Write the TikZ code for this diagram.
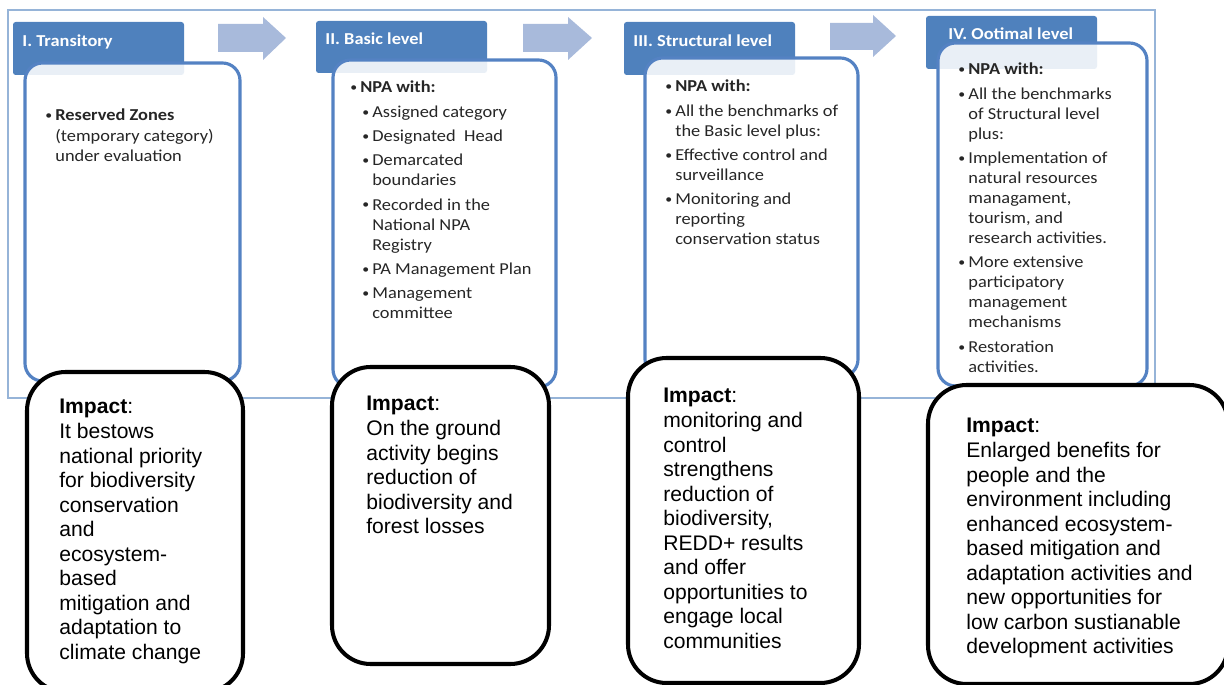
\documentclass[tikz,border=0pt]{standalone}
\usepackage{fontspec}
\usepackage{graphicx}
\setmainfont{Liberation Sans}
\newfontfamily\calib[FakeStretch=1.1]{Carlito}
\usepackage{tikz}
\definecolor{tabblue}{RGB}{79,129,189}
\definecolor{boxblue}{RGB}{84,130,195}
\definecolor{arrblue}{RGB}{168,186,219}
\definecolor{framblue}{RGB}{150,180,216}
\definecolor{txtgray}{RGB}{38,38,38}
\newcommand{\bl}{\makebox[5.7pt][l]{\raisebox{0.15ex}{\scalebox{0.75}{\textbullet}}}}
\newcommand{\itm}[2][0pt]{\par\hangindent=\dimexpr#1+5.7pt\relax\hangafter=1%
  \noindent\hspace*{#1}\bl#2\par\vspace{2.4pt}}
\tikzset{
  tabbox/.style={fill=tabblue, rounded corners=1.5pt},
  lvlbox/.style={draw=boxblue, line width=1.8pt, fill=white, fill opacity=0.88, rounded corners=10pt},
  impbox/.style={draw=black, line width=2.3pt, fill=white, rounded corners=22pt},
  tabtext/.style={anchor=base west, inner sep=0, text=white, font=\calib\bfseries\fontsize{9.5}{11.4}\selectfont},
  lvltext/.style={anchor=base west, inner sep=0, text=txtgray, font=\calib\fontsize{9.5}{11.4}\selectfont},
  imptext/.style={anchor=base west, inner sep=0, text=black, font=\fontsize{12}{13.95}\selectfont}
}

\begin{document}
\begin{tikzpicture}[x=0.02cm, y=-0.02cm]
\clip (0,0) rectangle (1224,685);
% frame round the four levels
\draw[framblue, line width=1.2pt] (8,10) rectangle (1155,398);
% arrows between the tabs
\fill[arrblue] (218,24) -- (263,24) -- (263,17) -- (286,38) -- (263,60) -- (263,52) -- (218,52) -- cycle;
\fill[arrblue] (523,24) -- (568,24) -- (568,17) -- (592,38) -- (568,60) -- (568,52) -- (523,52) -- cycle;
\fill[arrblue] (830,23) -- (873,23) -- (873,15) -- (896,36) -- (873,57) -- (873,50) -- (830,50) -- cycle;
% tabs
\fill[tabbox] (13,22) rectangle (184,75);
\fill[tabbox] (316,21) rectangle (487,73);
\fill[tabbox] (624,22) rectangle (795,75);
\fill[tabbox] (926,16) rectangle (1097,69);
% level boxes
\draw[lvlbox] (25,63) rectangle (240,381);
\draw[lvlbox] (333,60) rectangle (556,387);
\draw[lvlbox] (645,58) rectangle (858,377);
\draw[lvlbox] (938,43) rectangle (1147,386);
% tab labels
\node[tabtext] (tabI) at (22,47) {I. Transitory};
\node[tabtext] (tabII) at (325,45) {II. Basic level};
\node[tabtext] (tabIII) at (633,47) {III. Structural level};
\node[tabtext] (tabIV) at (948,40) {IV. Ootimal level};
% level contents
\node[lvltext] (lvlI) at (45,121) {\begin{minipage}[t]{110pt}
\itm{\textbf{Reserved Zones}\\(temporary category)\\under evaluation}
\end{minipage}};
\node[lvltext] (lvlII) at (350,93) {\begin{minipage}[t]{115pt}
\itm{\textbf{NPA with:}}
\itm[6.8pt]{Assigned category}
\itm[6.8pt]{Designated\ \ Head}
\itm[6.8pt]{Demarcated\\boundaries}
\itm[6.8pt]{Recorded in the\\National NPA\\Registry}
\itm[6.8pt]{PA Management Plan}
\itm[6.8pt]{Management\\committee}
\end{minipage}};
\node[lvltext] (lvlIII) at (665,92) {\begin{minipage}[t]{110pt}
\itm{\textbf{NPA with:}}
\itm{All the benchmarks of\\the Basic level plus:}
\itm{Effective control and\\surveillance}
\itm{Monitoring and\\reporting\\conservation status}
\end{minipage}};
\node[lvltext] (lvlIV) at (958,75) {\begin{minipage}[t]{105pt}
\itm{\textbf{NPA with:}}
\itm{All the benchmarks\\of Structural level\\plus:}
\itm{Implementation of\\natural resources\\managament,\\tourism, and\\research activities.}
\itm{More extensive\\participatory\\management\\mechanisms}
\itm{Restoration\\activities.}
\end{minipage}};
% impact boxes
\draw[impbox] (27,372) rectangle (243,692);
\draw[impbox] (332,367) rectangle (549,664);
\draw[impbox] (628,358) rectangle (859,683);
\draw[impbox] (928,385) rectangle (1228,684);
\node[imptext] (impI) at (59,414) {\begin{minipage}[t]{110pt}
\textbf{Impact}:\\It bestows\\national priority\\for biodiversity\\conservation\\and\\ecosystem-\\based\\mitigation and\\adaptation to\\climate change
\end{minipage}};
\node[imptext] (impII) at (366,411) {\begin{minipage}[t]{110pt}
\textbf{Impact}:\\On the ground\\activity begins\\reduction of\\biodiversity and\\forest losses
\end{minipage}};
\node[imptext] (impIII) at (663,403) {\begin{minipage}[t]{110pt}
\textbf{Impact}:\\monitoring and\\control\\strengthens\\reduction of\\biodiversity,\\REDD+ results\\and offer\\opportunities to\\engage local\\communities
\end{minipage}};
\node[imptext] (impIV) at (966,433) {\begin{minipage}[t]{140pt}
\textbf{Impact}:\\Enlarged benefits for\\people and the\\environment including\\enhanced ecosystem-\\based mitigation and\\adaptation activities and\\new opportunities for\\low carbon sustianable\\development activities
\end{minipage}};
\end{tikzpicture}
\end{document}
